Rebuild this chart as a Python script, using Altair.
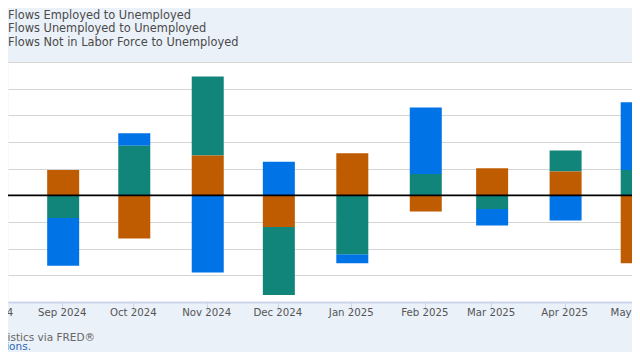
import altair as alt
import pandas as pd

# ---- data ----
months = [
    "2024-08-01T00:00:00", "2024-09-01T00:00:00", "2024-10-01T00:00:00",
    "2024-11-01T00:00:00", "2024-12-01T00:00:00", "2025-01-01T00:00:00",
    "2025-02-01T00:00:00", "2025-03-01T00:00:00", "2025-04-01T00:00:00",
    "2025-05-01T00:00:00",
]
series_names = [
    "Flows Employed to Unemployed",
    "Flows Unemployed to Unemployed",
    "Flows Not in Labor Force to Unemployed",
]
series_colors = ["#0073e6", "#12857a", "#bf5b00"]
stack_order = [2, 1, 0]

employed_to_unemployed = [-29, -179, 47, -289, 126, -34, 249, -62, -94, 254]
unemployed_to_unemployed = [-52, -85, 186, 297, -255, -221, 80, -51, 79, 95]
nilf_to_unemployed = [36, 95, -162, 149, -119, 158, -61, 102, 89, -255]

y_grid_values = [-400, -300, -200, -100, 0, 100, 200, 300, 400, 500]

source_text = "Source: U.S. Bureau of Labor Statistics via FRED\u00ae"
shaded_text = "Shaded areas indicate U.S. recessions."

# ---- table ----
rows = []
for i, m in enumerate(months):
    for name, vals, o in zip(series_names,
                             [employed_to_unemployed, unemployed_to_unemployed, nilf_to_unemployed],
                             stack_order):
        rows.append({"date": m, "series": name, "value": vals[i], "ord": o})
df = pd.DataFrame(rows)

FONT = "DejaVu Sans"

x_scale = alt.Scale(domain=[
    alt.DateTime(year=2024, month=8, date=9, hours=3, minutes=20),
    alt.DateTime(year=2025, month=4, date=29, hours=10, minutes=33),
], padding=0)
y_scale = alt.Scale(domain=[-400, 500], nice=False, zero=False, padding=0)

x_axis = alt.Axis(title=None, labels=False, grid=False, ticks=True,
                  tickSize=9, tickColor="#ccd6eb", tickWidth=1,
                  domainColor="#ccd6eb", domainWidth=2,
                  tickCount={"interval": "month", "step": 1})
y_axis = alt.Axis(title=None, labels=False, ticks=False, domain=False,
                  grid=True, values=y_grid_values,
                  gridColor="#d4d4d4", gridWidth=1.2)

bars = alt.Chart(df).mark_bar(size=32, clip=True, xOffset=1).encode(
    x=alt.X("date:T", scale=x_scale, axis=x_axis),
    y=alt.Y("value:Q", stack="zero", scale=y_scale, axis=y_axis),
    color=alt.Color("series:N", scale=alt.Scale(domain=series_names, range=series_colors),
                    legend=None),
    order=alt.Order("ord:Q"),
)

zero_rule = alt.Chart(pd.DataFrame({"v": [0]})).mark_rule(
    color="black", strokeWidth=1.8
).encode(y=alt.Y("v:Q", scale=y_scale, axis=y_axis))

month_labels = alt.Chart(pd.DataFrame({"date": months})).mark_text(
    font=FONT, fontSize=10.2, color="#555555", align="center", baseline="middle"
).encode(
    x=alt.X("date:T", scale=x_scale, axis=x_axis),
    y=alt.value(251),
    text=alt.Text("date:T", format="%b %Y"),
)

legend_layers = []
for i, name in enumerate(series_names):
    legend_layers.append(
        alt.Chart(pd.DataFrame({"t": [name]})).mark_text(
            font=FONT, fontSize=11.4, color="#4a4a4a", align="left", baseline="middle"
        ).encode(x=alt.value(0), y=alt.value(-46.3 + i * 13.5), text="t:N")
    )

source = alt.Chart(pd.DataFrame({"t": [source_text]})).mark_text(
    font=FONT, fontSize=10.5, color="#666666", align="right", baseline="middle"
).encode(x=alt.value(87), y=alt.value(276), text="t:N")

shaded = alt.Chart(pd.DataFrame({"t": [shaded_text]})).mark_text(
    font=FONT, fontSize=10.5, color="#2f67b1", align="right", baseline="middle"
).encode(x=alt.value(23), y=alt.value(285), text="t:N")

chart = alt.layer(bars, zero_rule, month_labels, *legend_layers, source, shaded).properties(
    width=624, height=240,
    padding={"top": 54, "left": 0, "right": 0, "bottom": 50},
    autosize=alt.AutoSizeParams(type="none"),
    background="#eaf1f9",
).configure_view(fill="white", stroke="transparent")

chart.save("out.html", embed_options={"renderer": "svg", "actions": False})
